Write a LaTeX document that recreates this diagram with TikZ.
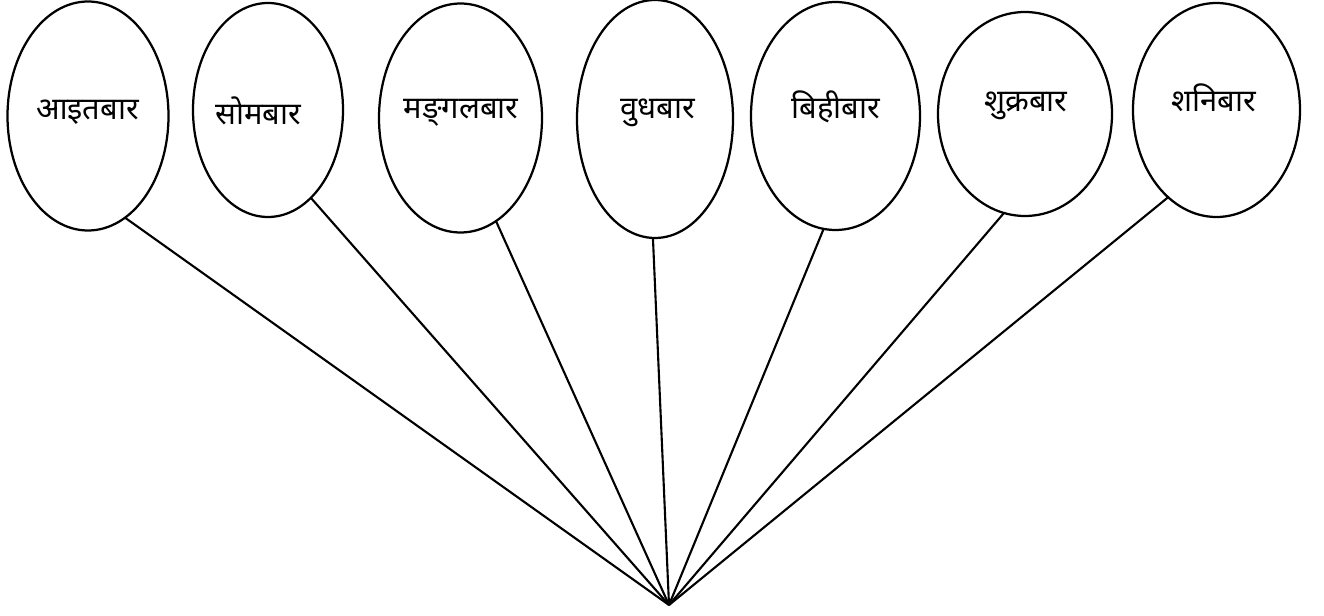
\documentclass[tikz,border=0pt]{standalone}
\usepackage{fontspec}
\newfontfamily\devfont[Script=Devanagari]{Noto Sans}
\usetikzlibrary{shapes.geometric}

\begin{document}
\begin{tikzpicture}[
  day/.style={draw, ellipse, line width=1.6pt, inner sep=0pt, outer sep=0pt},
  dayname/.style={font=\devfont\fontsize{22}{26}\selectfont},
  spoke/.style={line width=1.5pt}]
\useasboundingbox (0,0) rectangle (33.1,15.375);
\coordinate (apex) at (16.725,0.25);
\node[day, minimum width=4.025cm, minimum height=5.725cm] (sun) at (2.2,12.475) {};
\node[day, minimum width=3.75cm, minimum height=5.35cm] (mon) at (6.7,12.625) {};
\node[day, minimum width=4.075cm, minimum height=5.725cm] (tue) at (11.5125,12.425) {};
\node[day, minimum width=3.9cm, minimum height=5.95cm] (wed) at (16.375,12.4) {};
\node[day, minimum width=4.225cm, minimum height=5.7cm] (thu) at (20.8875,12.475) {};
\node[day, minimum width=4.35cm, minimum height=5.1cm] (fri) at (25.625,12.525) {};
\node[day, minimum width=4.175cm, minimum height=5.35cm] (sat) at (30.4125,12.625) {};
\node[dayname] (sunname) at (2.1875,12.57) {आइतबार};
\node[dayname] (monname) at (6.45,12.6) {सोमबार};
\node[dayname] (tuename) at (11.525,12.55) {मङ्‌गलबार};
\node[dayname] (wedname) at (16.4375,12.55) {वुधबार};
\node[dayname] (thuname) at (20.9,12.7) {बिहीबार};
\node[dayname] (friname) at (25.65,12.72) {शुक्रबार};
\node[dayname] (satname) at (30.35,12.92) {शनिबार};
\draw[spoke] (sun.-70) -- (apex);
\draw[spoke] (mon.-64.5) -- (apex);
\draw[spoke] (tue.-71) -- (apex);
\draw[spoke] (wed.-91.4) -- (apex);
\draw[spoke] (thu.-96.3) -- (apex);
\draw[spoke] (fri.-102.3) -- (apex);
\draw[spoke] (sat.-119.6) -- (apex);
\end{tikzpicture}
\end{document}
